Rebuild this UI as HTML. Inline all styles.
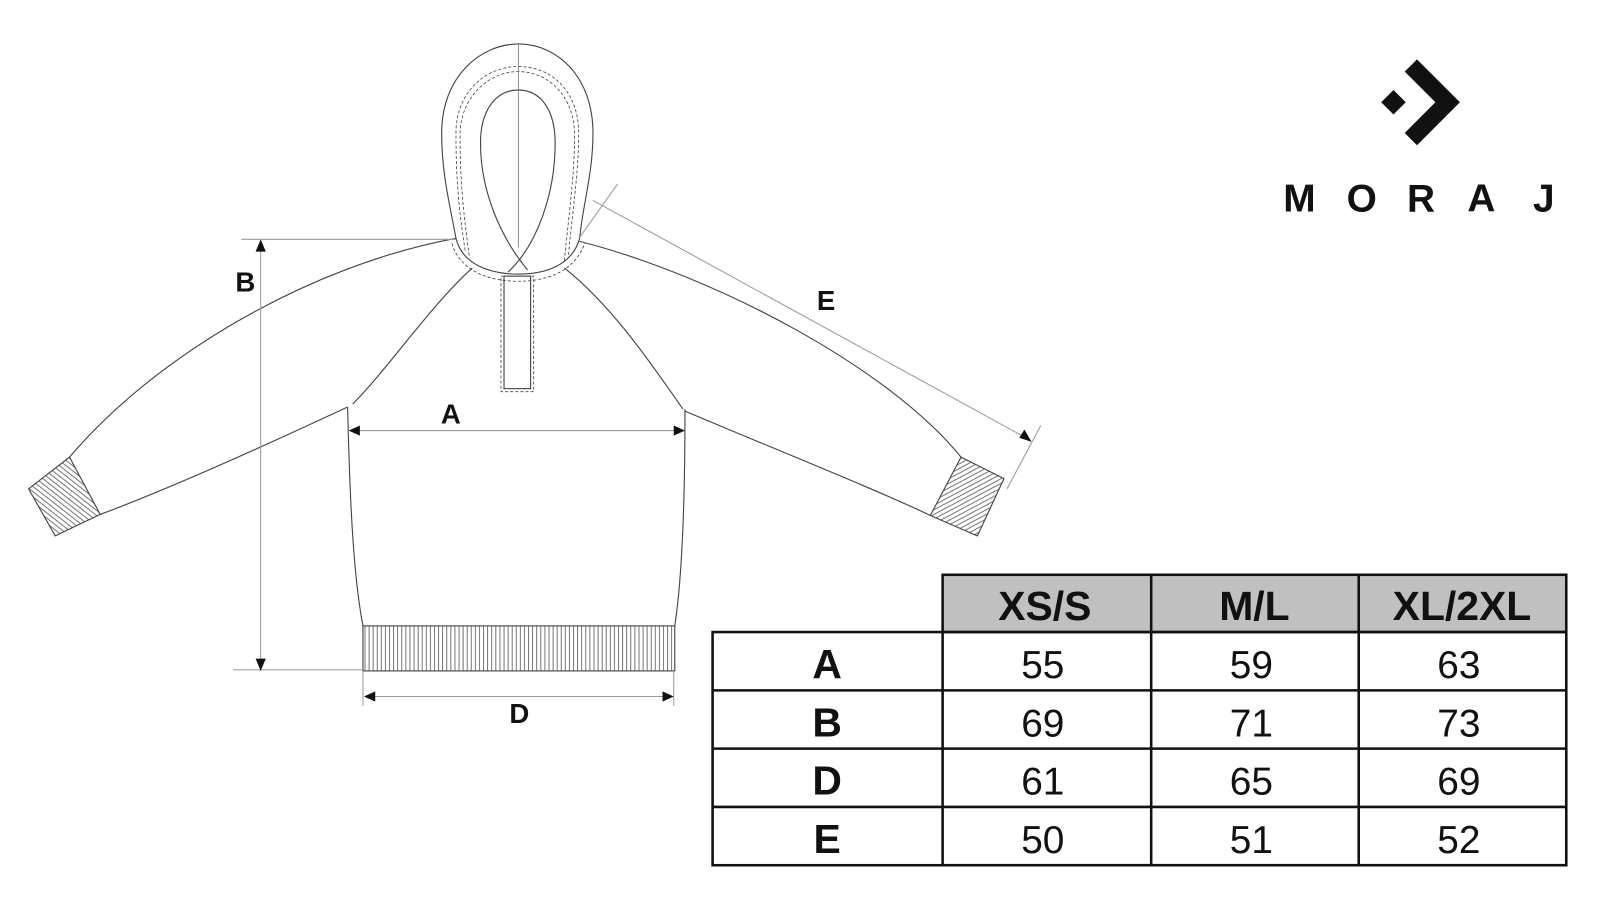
<!DOCTYPE html>
<html><head><meta charset="utf-8"><style>
html,body{margin:0;padding:0;background:#fff;width:1600px;height:900px;overflow:hidden}
svg{display:block}
text{font-family:"Liberation Sans",Arial,sans-serif}
</style></head><body>
<svg width="1600" height="900" viewBox="0 0 1565 880" preserveAspectRatio="none" xmlns="http://www.w3.org/2000/svg">
<rect width="1565" height="880" fill="#fff"/>
<defs>
<pattern id="vl" width="4" height="10" patternUnits="userSpaceOnUse"><line x1="1" y1="0" x2="1" y2="10" stroke="#555" stroke-width="0.8"/></pattern>
<pattern id="dl" width="4" height="10" patternUnits="userSpaceOnUse" patternTransform="rotate(-52)"><line x1="1" y1="0" x2="1" y2="10" stroke="#555" stroke-width="0.8"/></pattern>
<pattern id="dr" width="4" height="10" patternUnits="userSpaceOnUse" patternTransform="rotate(62)"><line x1="1" y1="0" x2="1" y2="10" stroke="#555" stroke-width="0.8"/></pattern>
</defs>
<g fill="none" stroke="#444" stroke-width="1.1">
<!-- hood -->
<path d="M446,233 C440,200 432,170 432,130 C432,75 470,43 507,43 C545,43 580,75 580,130 C580,170 570,200 567,233"/>
<path d="M455,245 C448,200 446,170 446,130 C446,90 475,65 507,65 C540,65 566,90 566,130 C566,170 560,205 556,250" stroke-dasharray="3,2" stroke-width="0.8"/>
<path d="M459,250 C452,200 450,170 450,132 C450,95 478,70 507,70 C537,70 562,95 562,132 C562,170 557,205 552,255" stroke-dasharray="3,2" stroke-width="0.8"/>
<path d="M516,264 C492,235 470,190 470,140 C470,105 487,88 507,88 C527,88 543,105 543,140 C543,190 525,240 497,266"/>
<line x1="507" y1="43" x2="507" y2="242" stroke="#777" stroke-width="0.8"/>
<path d="M446,233 C452,258 478,268 507,268 C536,268 560,258 567,233"/>
<path d="M442,238 C450,265 478,275 507,275 C536,275 562,265 572,238" stroke-dasharray="3,2" stroke-width="0.8"/>
<rect x="493" y="270" width="26" height="110"/>
<rect x="490" y="270" width="32" height="113" stroke-dasharray="3,2" stroke-width="0.8"/>
<!-- raglan -->
<path d="M462,262 C420,300 380,360 345,395"/>
<path d="M552,262 C600,300 640,360 668,400"/>
<!-- body -->
<path d="M340,398 C342,480 345,560 355,612"/>
<path d="M670,400 C670,480 668,560 660,612"/>
<rect x="355" y="612" width="305" height="44" fill="url(#vl)"/>
<!-- left sleeve -->
<path d="M446,233 C300,260 150,350 68,447"/>
<path d="M340,398 C250,440 160,480 98,503"/>
<polygon points="28,478 68,447 98,503 54,524" fill="url(#dl)"/>
<!-- right sleeve -->
<path d="M567,236 C700,270 870,360 940,447"/>
<path d="M670,402 C760,440 860,480 910,504"/>
<polygon points="940,447 982,468 956,524 910,504" fill="url(#dr)"/>
</g>
<!-- dimension lines -->
<g stroke="#999" stroke-width="1" fill="none">
<line x1="236" y1="234" x2="446" y2="234"/>
<line x1="228" y1="655" x2="355" y2="655"/>
<line x1="255" y1="240" x2="255" y2="650"/>
<line x1="345" y1="421" x2="665" y2="421"/>
<line x1="360" y1="681" x2="655" y2="681"/>
<line x1="355" y1="656" x2="355" y2="690"/>
<line x1="659" y1="656" x2="659" y2="690"/>
<line x1="580" y1="196" x2="1007" y2="430"/>
<line x1="604" y1="180" x2="567" y2="232"/>
<line x1="1018" y1="416" x2="985" y2="478"/>
</g>
<g fill="#111">
<polygon points="255,234 250,246 260,246"/>
<polygon points="255,656 250,644 260,644"/>
<polygon points="341,421 352,416 352,426"/>
<polygon points="670,421 659,416 659,426"/>
<polygon points="356,681 367,676 367,686"/>
<polygon points="659,681 648,676 648,686"/>
<polygon points="1009,432 997,428 1002,420"/>
</g>
<g font-size="27" font-weight="bold" fill="#111" text-anchor="middle">
<text x="240" y="285">B</text>
<text x="441" y="414">A</text>
<text x="808" y="303">E</text>
<text x="508" y="707">D</text>
</g>
<!-- logo -->
<g fill="#111">
<polygon points="1363,88 1375,100 1363,112 1351,100"/>
<polygon points="1374,70 1386,58 1428,100 1386,142 1374,130 1404,100"/>
</g>
<g font-size="38" font-weight="bold" fill="#111" text-anchor="middle">
<text x="1271" y="207">M</text>
<text x="1332" y="207">O</text>
<text x="1390" y="207">R</text>
<text x="1449" y="207">A</text>
<text x="1510" y="207">J</text>
</g>
<!-- table -->
<rect x="922" y="562" width="610" height="56" fill="#c0c0c0"/>
<g stroke="#111" stroke-width="2.5" fill="none">
<rect x="922" y="562" width="610" height="284"/>
<rect x="697" y="618" width="835" height="228"/>
<line x1="922" y1="618" x2="1532" y2="618"/>
<line x1="697" y1="675" x2="1532" y2="675"/>
<line x1="697" y1="732" x2="1532" y2="732"/>
<line x1="697" y1="789" x2="1532" y2="789"/>
<line x1="1126" y1="562" x2="1126" y2="846"/>
<line x1="1329" y1="562" x2="1329" y2="846"/>
</g>
<g font-size="40" font-weight="bold" fill="#111" text-anchor="middle">
<text x="1022" y="606">XS/S</text>
<text x="1227" y="606">M/L</text>
<text x="1430" y="606">XL/2XL</text>
<text x="809" y="663">A</text>
<text x="809" y="720">B</text>
<text x="809" y="777">D</text>
<text x="809" y="834">E</text>
</g>
<g font-size="38" fill="#111" text-anchor="middle">
<text x="1020" y="663">55</text><text x="1224" y="663">59</text><text x="1427" y="663">63</text>
<text x="1020" y="720">69</text><text x="1224" y="720">71</text><text x="1427" y="720">73</text>
<text x="1020" y="777">61</text><text x="1224" y="777">65</text><text x="1427" y="777">69</text>
<text x="1020" y="834">50</text><text x="1224" y="834">51</text><text x="1427" y="834">52</text>
</g>
</svg>
</body></html>
